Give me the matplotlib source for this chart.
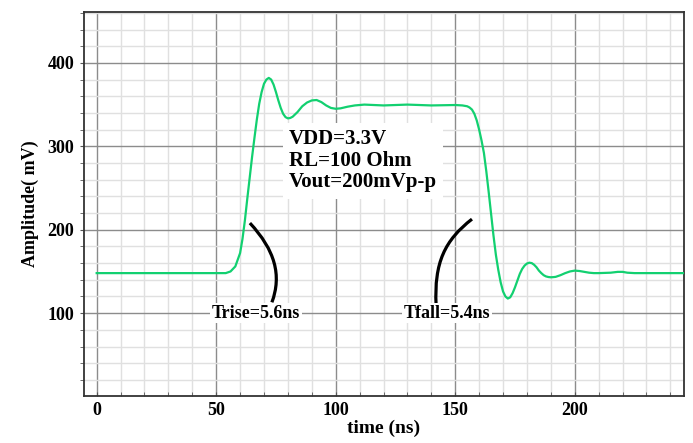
import matplotlib.pyplot as plt
from matplotlib.path import Path
from matplotlib.patches import PathPatch
from matplotlib.ticker import MultipleLocator

# waveform (time in ns, amplitude in mV)
time_ns = [0, 50, 54, 56, 58, 60, 61, 62, 63, 64, 65, 66, 67, 68, 69, 70,
           71, 72, 73, 74, 75, 76, 77, 78, 79, 80, 81, 82, 84, 86, 88, 90,
           92, 94, 96, 98, 100, 102, 105, 108, 112, 120, 130, 140, 150, 153,
           155, 156, 157, 158, 159, 160, 161, 162, 163, 164, 165, 166, 167,
           168, 169, 170, 171, 172, 173, 174, 175, 176, 177, 178, 179, 180,
           181, 182, 183, 184, 185, 186, 187, 188, 189, 190, 191, 192, 194,
           196, 198, 200, 202, 204, 206, 208, 210, 215, 218, 220, 222, 225, 246]
amp_mv = [148, 148, 148, 150, 156, 172, 189, 211, 237, 262, 287, 310, 332,
          351, 365, 375, 380, 382, 380, 374, 365, 355, 346, 339, 335, 333.5,
          334, 335.5, 341, 348, 352.5, 355, 355.5, 353, 349, 346, 345, 345.5,
          347.5, 349, 350, 349, 350, 349, 349.5, 349, 348, 346.5, 344, 339, 331,
          320, 307, 292, 270, 245, 219, 193, 170, 152, 137, 126, 120, 117.5,
          119, 124, 131, 139, 147, 153, 157, 159.5, 160.5, 160, 158, 155, 151,
          148, 145.5, 144, 143.3, 143, 143.2, 143.5, 145.5, 148, 150, 151,
          150.5, 149.5, 148.5, 148, 148, 148.5, 149.5, 149.5, 148.5, 148, 148]

info_text = "VDD=3.3V\nRL=100 Ohm\nVout=200mVp-p"
rise_label = "Trise=5.6ns"
fall_label = "Tfall=5.4ns"

serif = ["Liberation Serif", "DejaVu Serif"]

fig = plt.figure(figsize=(6.93, 4.43), dpi=100)
ax = fig.add_axes([84 / 693, 47 / 443, 600 / 693, 384 / 443])

ax.plot(time_ns, amp_mv, color="#12d070", linewidth=1.6, zorder=3)

ax.set_xlim(-5.3, 245.7)
ax.set_ylim(0.7, 461)
ax.xaxis.set_major_locator(MultipleLocator(50))
ax.xaxis.set_minor_locator(MultipleLocator(10))
ax.yaxis.set_major_locator(MultipleLocator(100))
ax.yaxis.set_minor_locator(MultipleLocator(20))
ax.set_yticks([100, 200, 300, 400])

ax.grid(which="major", color="#8c8c8c", linewidth=1.0)
ax.grid(which="minor", color="#e0e0e0", linewidth=1.0)
ax.set_axisbelow(True)

for s in ax.spines.values():
    s.set_color("#333333")
    s.set_linewidth(1.3)

ax.tick_params(axis="x", which="both", direction="in", length=3, color="#555555")
ax.tick_params(axis="y", which="both", direction="out", length=3, color="#555555")
ax.tick_params(axis="both", which="major", labelsize=13, pad=4)
for lab in ax.get_xticklabels() + ax.get_yticklabels():
    lab.set_family(serif)
    lab.set_fontweight("bold")

ax.set_xlabel("time (ns)", family=serif, fontweight="bold", fontsize=14, labelpad=1)
ax.set_ylabel("Amplitude( mV)", family=serif, fontweight="bold", fontsize=13, labelpad=6)

# info box
ax.text(80.5, 321, info_text, family=serif, fontweight="bold", fontsize=15,
        va="top", ha="left", linespacing=1.12, zorder=4,
        bbox=dict(boxstyle="square,pad=0.3", facecolor="white", edgecolor="none"))

# rise / fall markers
rise_curve = [(64.1, 208), (74.6, 175.5), (77.5, 145.5), (73.3, 113)]
fall_curve = [(157, 212.7), (145.7, 187.5), (141.1, 161), (142, 109.5)]
codes = [Path.MOVETO, Path.CURVE4, Path.CURVE4, Path.CURVE4]
for pts in (rise_curve, fall_curve):
    ax.add_patch(PathPatch(Path(pts, codes), facecolor="none",
                           edgecolor="black", linewidth=2.3, zorder=4))

for x, lab in ((66.7, rise_label), (146.6, fall_label)):
    ax.text(x, 100, lab, family=serif, fontweight="bold", fontsize=13,
            ha="center", va="center", zorder=5,
            bbox=dict(boxstyle="square,pad=0.1", facecolor="white", edgecolor="none"))

fig.savefig("out.png", dpi=100)
